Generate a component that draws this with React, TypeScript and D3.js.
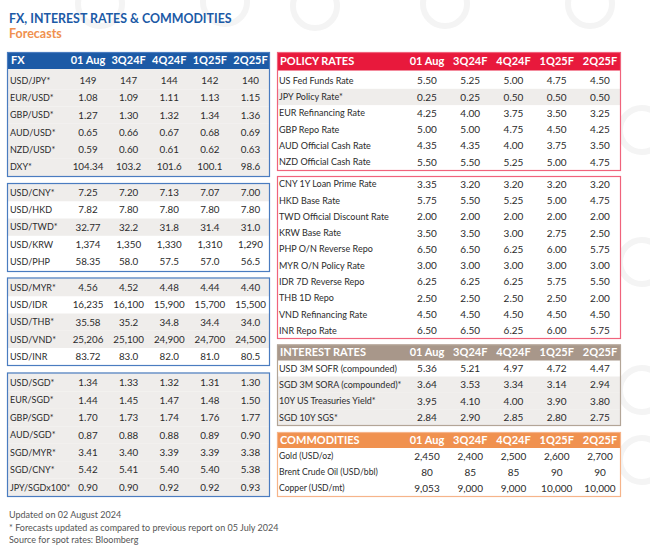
import React from "react";
import * as d3 from "d3";

// ---------- data ----------
const columns = ["01 Aug", "3Q24F", "4Q24F", "1Q25F", "2Q25F"];

const fxMajorLabels = ["USD/JPY*", "EUR/USD*", "GBP/USD*", "AUD/USD*", "NZD/USD*", "DXY*"];
const fxMajorValues = [
  ["149", "147", "144", "142", "140"],
  ["1.08", "1.09", "1.11", "1.13", "1.15"],
  ["1.27", "1.30", "1.32", "1.34", "1.36"],
  ["0.65", "0.66", "0.67", "0.68", "0.69"],
  ["0.59", "0.60", "0.61", "0.62", "0.63"],
  ["104.34", "103.2", "101.6", "100.1", "98.6"],
];

const fxNorthAsiaLabels = ["USD/CNY*", "USD/HKD", "USD/TWD*", "USD/KRW", "USD/PHP"];
const fxNorthAsiaValues = [
  ["7.25", "7.20", "7.13", "7.07", "7.00"],
  ["7.82", "7.80", "7.80", "7.80", "7.80"],
  ["32.77", "32.2", "31.8", "31.4", "31.0"],
  ["1,374", "1,350", "1,330", "1,310", "1,290"],
  ["58.35", "58.0", "57.5", "57.0", "56.5"],
];

const fxAseanLabels = ["USD/MYR*", "USD/IDR", "USD/THB*", "USD/VND*", "USD/INR"];
const fxAseanValues = [
  ["4.56", "4.52", "4.48", "4.44", "4.40"],
  ["16,235", "16,100", "15,900", "15,700", "15,500"],
  ["35.58", "35.2", "34.8", "34.4", "34.0"],
  ["25,206", "25,100", "24,900", "24,700", "24,500"],
  ["83.72", "83.0", "82.0", "81.0", "80.5"],
];

const fxSgdLabels = ["USD/SGD*", "EUR/SGD*", "GBP/SGD*", "AUD/SGD*", "SGD/MYR*", "SGD/CNY*", "JPY/SGDx100*"];
const fxSgdValues = [
  ["1.34", "1.33", "1.32", "1.31", "1.30"],
  ["1.44", "1.45", "1.47", "1.48", "1.50"],
  ["1.70", "1.73", "1.74", "1.76", "1.77"],
  ["0.87", "0.88", "0.88", "0.89", "0.90"],
  ["3.41", "3.40", "3.39", "3.39", "3.38"],
  ["5.42", "5.41", "5.40", "5.40", "5.38"],
  ["0.90", "0.90", "0.92", "0.92", "0.93"],
];

const policyMajorLabels = [
  "US Fed Funds Rate",
  "JPY Policy Rate*",
  "EUR Refinancing Rate",
  "GBP Repo Rate",
  "AUD Official Cash Rate",
  "NZD Official Cash Rate",
];
const policyMajorValues = [
  ["5.50", "5.25", "5.00", "4.75", "4.50"],
  ["0.25", "0.25", "0.50", "0.50", "0.50"],
  ["4.25", "4.00", "3.75", "3.50", "3.25"],
  ["5.00", "5.00", "4.75", "4.50", "4.25"],
  ["4.35", "4.35", "4.00", "3.75", "3.50"],
  ["5.50", "5.50", "5.25", "5.00", "4.75"],
];

const policyAsiaLabels = [
  "CNY 1Y Loan Prime Rate",
  "HKD Base Rate",
  "TWD Official Discount Rate",
  "KRW Base Rate",
  "PHP O/N Reverse Repo",
  "MYR O/N Policy Rate",
  "IDR 7D Reverse Repo",
  "THB 1D Repo",
  "VND Refinancing Rate",
  "INR Repo Rate",
];
const policyAsiaValues = [
  ["3.35", "3.20", "3.20", "3.20", "3.20"],
  ["5.75", "5.50", "5.25", "5.00", "4.75"],
  ["2.00", "2.00", "2.00", "2.00", "2.00"],
  ["3.50", "3.50", "3.00", "2.75", "2.50"],
  ["6.50", "6.50", "6.25", "6.00", "5.75"],
  ["3.00", "3.00", "3.00", "3.00", "3.00"],
  ["6.25", "6.25", "6.25", "5.75", "5.50"],
  ["2.50", "2.50", "2.50", "2.50", "2.00"],
  ["4.50", "4.50", "4.50", "4.50", "4.50"],
  ["6.50", "6.50", "6.25", "6.00", "5.75"],
];

const interestLabels = [
  "USD 3M SOFR (compounded)",
  "SGD 3M SORA (compounded)*",
  "10Y US Treasuries Yield*",
  "SGD 10Y SGS*",
];
const interestValues = [
  ["5.36", "5.21", "4.97", "4.72", "4.47"],
  ["3.64", "3.53", "3.34", "3.14", "2.94"],
  ["3.95", "4.10", "4.00", "3.90", "3.80"],
  ["2.84", "2.90", "2.85", "2.80", "2.75"],
];

const commodityLabels = ["Gold (USD/oz)", "Brent Crude Oil (USD/bbl)", "Copper (USD/mt)"];
const commodityValues = [
  ["2,450", "2,400", "2,500", "2,600", "2,700"],
  ["80", "85", "85", "90", "90"],
  ["9,053", "9,000", "9,000", "10,000", "10,000"],
];

const footnotes = [
  "Updated on 02 August 2024",
  "* Forecasts updated as compared to previous report on 05 July 2024",
  "Source for spot rates: Bloomberg",
];

// ---------- style ----------
const FONT = "Lato, 'Open Sans', sans-serif";
const STRIPE = "#efedeb";
const TEXT = "#2b2b2b";

type Section = {
  labels: string[];
  values: string[][];
  boxTop: number;
  boxBottom: number;
  bandTop: number;
  bandBottom: number;
  header?: { title: string; y0: number; y1: number; fill: string };
};

type TableCfg = {
  x0: number;
  x1: number;
  labelX: number;
  colRange: [number, number];
  border: string;
  labelSize: number;
  valueSize: number;
  sections: Section[];
};

function Table({ cfg, id }: { cfg: TableCfg; id: string }) {
  const col = d3.scalePoint<string>().domain(columns).range(cfg.colRange);
  return (
    <g>
      {cfg.sections.map((s, si) => {
        const band = d3
          .scaleBand<string>()
          .domain(s.labels)
          .range([s.bandTop, s.bandBottom])
          .padding(0);
        const bw = band.bandwidth();
        const contentTop = s.header ? s.header.y1 : s.boxTop;
        return (
          <g key={id + si}>
            <rect
              x={cfg.x0}
              y={s.boxTop}
              width={cfg.x1 - cfg.x0}
              height={s.boxBottom - s.boxTop}
              fill="#fff"
            />
            {s.labels.map((lab, i) => {
              if (!lab.includes("*")) return null;
              const y0 = i === 0 ? contentTop : (band(lab) as number);
              const y1 = i === s.labels.length - 1 ? s.boxBottom : (band(lab) as number) + bw;
              return (
                <rect
                  key={"bg" + i}
                  x={cfg.x0}
                  y={y0}
                  width={cfg.x1 - cfg.x0}
                  height={y1 - y0}
                  fill={STRIPE}
                />
              );
            })}
            {s.header && (
              <g>
                <rect
                  x={cfg.x0}
                  y={s.header.y0}
                  width={cfg.x1 - cfg.x0}
                  height={s.header.y1 - s.header.y0}
                  fill={s.header.fill}
                />
                <text
                  x={cfg.labelX + 1}
                  y={(s.header.y0 + s.header.y1) / 2}
                  dy="0.36em"
                  fill="#fff"
                  fontWeight={700}
                  fontSize={11}
                >
                  {s.header.title}
                </text>
                {columns.map((c) => (
                  <text
                    key={c}
                    x={col(c)}
                    y={(s.header!.y0 + s.header!.y1) / 2}
                    dy="0.36em"
                    textAnchor="middle"
                    fill="#fff"
                    fontWeight={700}
                    fontSize={11}
                  >
                    {c}
                  </text>
                ))}
              </g>
            )}
            {s.labels.map((lab, i) => {
              const cy = (band(lab) as number) + bw / 2;
              return (
                <g key={"r" + i}>
                  <text x={cfg.labelX} y={cy} dy="0.36em" fill={TEXT} fontSize={cfg.labelSize}>
                    {lab}
                  </text>
                  {s.values[i].map((v, j) => (
                    <text
                      key={j}
                      x={col(columns[j])}
                      y={cy}
                      dy="0.36em"
                      textAnchor="middle"
                      fill={TEXT}
                      fontSize={cfg.valueSize}
                    >
                      {v}
                    </text>
                  ))}
                </g>
              );
            })}
            <rect
              x={cfg.x0 + 0.5}
              y={s.boxTop + 0.5}
              width={cfg.x1 - cfg.x0 - 1}
              height={s.boxBottom - s.boxTop - 1}
              fill="none"
              stroke={cfg.border}
              strokeWidth={1.2}
            />
          </g>
        );
      })}
    </g>
  );
}

const fxCfg: TableCfg = {
  x0: 7,
  x1: 270,
  labelX: 10,
  colRange: [88, 250.5],
  border: "#4a7cc0",
  labelSize: 9,
  valueSize: 9.8,
  sections: [
    {
      labels: fxMajorLabels,
      values: fxMajorValues,
      boxTop: 52,
      boxBottom: 177,
      bandTop: 72,
      bandBottom: 175.5,
      header: { title: "FX", y0: 52, y1: 69, fill: "#1c5aa6" },
    },
    { labels: fxNorthAsiaLabels, values: fxNorthAsiaValues, boxTop: 183, boxBottom: 272, bandTop: 184, bandBottom: 270.3 },
    { labels: fxAseanLabels, values: fxAseanValues, boxTop: 277.5, boxBottom: 366, bandTop: 279, bandBottom: 365.3 },
    { labels: fxSgdLabels, values: fxSgdValues, boxTop: 372.5, boxBottom: 497, bandTop: 374, bandBottom: 496 },
  ],
};

const policyCfg: TableCfg = {
  x0: 277,
  x1: 621,
  labelX: 279,
  colRange: [427, 600],
  border: "#f0637c",
  labelSize: 9,
  valueSize: 10,
  sections: [
    {
      labels: policyMajorLabels,
      values: policyMajorValues,
      boxTop: 52,
      boxBottom: 171,
      bandTop: 72.5,
      bandBottom: 170.3,
      header: { title: "POLICY RATES", y0: 52, y1: 70.5, fill: "#e8193c" },
    },
    { labels: policyAsiaLabels, values: policyAsiaValues, boxTop: 176, boxBottom: 339, bandTop: 175.9, bandBottom: 338.9 },
  ],
};

const interestCfg: TableCfg = {
  x0: 277,
  x1: 621,
  labelX: 279,
  colRange: [427, 600],
  border: "#b3a597",
  labelSize: 9,
  valueSize: 10,
  sections: [
    {
      labels: interestLabels,
      values: interestValues,
      boxTop: 344.5,
      boxBottom: 426,
      bandTop: 360.2,
      bandBottom: 425.5,
      header: { title: "INTEREST RATES", y0: 344.5, y1: 360.5, fill: "#a8978a" },
    },
  ],
};

const commodityCfg: TableCfg = {
  x0: 277,
  x1: 621,
  labelX: 279,
  colRange: [427, 600],
  border: "#f6b48a",
  labelSize: 8.6,
  valueSize: 10,
  sections: [
    {
      labels: commodityLabels,
      values: commodityValues,
      boxTop: 432,
      boxBottom: 497,
      bandTop: 447.9,
      bandBottom: 496.5,
      header: { title: "COMMODITIES", y0: 432, y1: 448, fill: "#f0914f" },
    },
  ],
};

const rings = [
  [100, 4],
  [225, 2],
  [315, 6],
  [445, 4],
  [590, 4],
  [642, 130],
  [642, 262],
  [642, 390],
  [642, 460],
];

export default function App() {
  return (
    <svg
      width={650}
      height={554}
      style={{ position: "absolute", left: 0, top: 0, background: "#fff" }}
      fontFamily={FONT}
    >
      <rect width={650} height={554} fill="#fff" />
      {rings.map(([cx, cy], i) => (
        <circle key={i} cx={cx} cy={cy} r={22} fill="none" stroke="#f4f4f4" strokeWidth={6} />
      ))}
      <text x={9} y={22.7} fontSize={12.4} fontWeight={700} fill="#1c5aa6">
        FX, INTEREST RATES &amp; COMMODITIES
      </text>
      <text x={9} y={37.5} fontSize={12.5} fontWeight={700} fill="#f0914f">
        Forecasts
      </text>

      <Table cfg={fxCfg} id="fx" />
      <Table cfg={policyCfg} id="pol" />
      <Table cfg={interestCfg} id="ir" />
      <Table cfg={commodityCfg} id="com" />

      {footnotes.map((f, i) => (
        <text key={i} x={9} y={518.3 + i * 12.2} fontSize={9} fill="#555">
          {f}
        </text>
      ))}
    </svg>
  );
}
